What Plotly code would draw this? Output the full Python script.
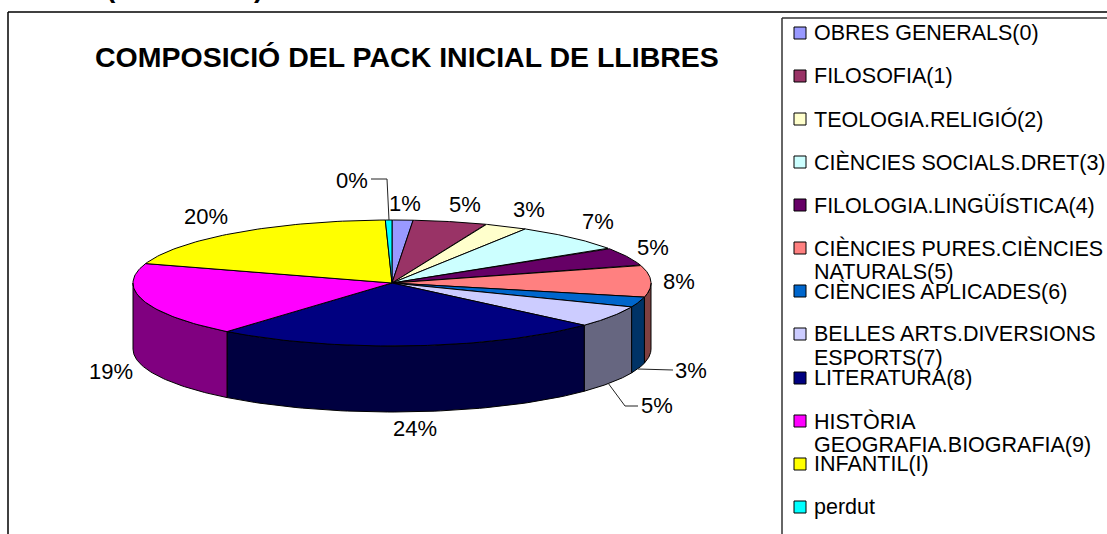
import numpy as np
import plotly.graph_objects as go

categories = ["OBRES GENERALS(0)", "FILOSOFIA(1)", "TEOLOGIA.RELIGIÓ(2)", "CIÈNCIES SOCIALS.DRET(3)",
              "FILOLOGIA.LINGÜÍSTICA(4)", "CIÈNCIES PURES.CIÈNCIES<br>NATURALS(5)", "CIÈNCIES APLICADES(6)",
              "BELLES ARTS.DIVERSIONS<br>ESPORTS(7)", "LITERATURA(8)", "HISTÒRIA<br>GEOGRAFIA.BIOGRAFIA(9)",
              "INFANTIL(I)", "perdut"]
values = [1.3, 4.6, 2.7, 7.1, 4.7, 8.2, 2.6, 5.49, 24.3, 19.0, 19.6, 0.41]
top_colors = ["#9999FF", "#993366", "#FFFFCC", "#CCFFFF", "#660066", "#FF8080",
              "#0066CC", "#CCCCFF", "#000080", "#FF00FF", "#FFFF00", "#00FFFF"]
side_colors = ["#4D4D80", "#4D1A33", "#808066", "#668080", "#330033", "#804040",
               "#003366", "#666680", "#000040", "#800080", "#808000", "#008080"]
title = "COMPOSICIÓ DEL PACK INICIAL DE LLIBRES"

# layout (pixels in the page)
W, H = 1107, 534
CX, CY, A, B, DEPTH = 392, 283, 259, 63, 66
label_pos = [(405, 203), (465, 204), (529, 209), (598, 221), (653, 247), (679, 281),
             (691, 370), (657, 405), (415, 428), (111, 371), (206, 216), (352, 180)]
legend_y = [33, 76, 119, 162, 205, 248, 291, 334, 378, 421, 464, 507]
LINE_STEP = 24
FONT = "Liberation Sans, Arial, sans-serif"

def ell(t):
    return CX + A * np.sin(t), CY - B * np.cos(t)

fig = go.Figure()
edges = np.cumsum([0] + values) / sum(values) * 2 * np.pi

# side walls (front half only)
for i in range(len(values)):
    lo, hi = max(edges[i], np.pi / 2), min(edges[i + 1], 3 * np.pi / 2)
    if hi <= lo:
        continue
    t = np.linspace(lo, hi, 60)
    x, y = ell(t)
    fig.add_trace(go.Scatter(x=np.r_[x, x[::-1], x[0]], y=np.r_[y, y[::-1] + DEPTH, y[0]],
                             mode="lines", fill="toself", fillcolor=side_colors[i],
                             line=dict(color="black", width=1), hoverinfo="skip", showlegend=False))
# top faces
for i in range(len(values)):
    t = np.linspace(edges[i], edges[i + 1], 60)
    x, y = ell(t)
    fig.add_trace(go.Scatter(x=np.r_[CX, x, CX], y=np.r_[CY, y, CY],
                             mode="lines", fill="toself", fillcolor=top_colors[i],
                             line=dict(color="black", width=1), hoverinfo="skip", showlegend=False))

# leader lines
for lx, ly in [([371, 387, 389], [179, 179, 220]),
               ([673, 638], [370, 369]),
               ([638, 625, 608], [406, 406, 383])]:
    fig.add_trace(go.Scatter(x=lx, y=ly, mode="lines", line=dict(color="#222222", width=1),
                             hoverinfo="skip", showlegend=False))

# legend swatches
fig.add_trace(go.Scatter(x=[800] * len(values), y=legend_y, mode="markers",
                         marker=dict(symbol="square", size=12, color=top_colors,
                                     line=dict(color="black", width=1)),
                         hoverinfo="skip", showlegend=False))

ann = []
for v, (x, y) in zip(values, label_pos):
    ann.append(dict(x=x, y=y, text=f"{round(v)}%", showarrow=False, xref="x", yref="y",
                    font=dict(family=FONT, size=22, color="black")))
for c, y in zip(categories, legend_y):
    for k, part in enumerate(c.split("<br>")):
        ann.append(dict(x=812, y=y + k * LINE_STEP, text=part, showarrow=False, xref="x", yref="y",
                        xanchor="left", yanchor="middle", align="left",
                        font=dict(family=FONT, size=21.5, color="black")))
ann.append(dict(x=407, y=57, text=f"<b>{title}</b>", showarrow=False, xref="x", yref="y",
                font=dict(family=FONT, size=28.5, color="black")))
for s, x in [("(", 111), (")", 258)]:
    ann.append(dict(x=x, y=1 + 13 / H, text=f"<b>{s}</b>", showarrow=False, xref="x", yref="paper",
                    yanchor="middle", font=dict(family=FONT, size=28, color="black")))

shapes = [
    dict(type="line", x0=8, y0=12, x1=W, y1=12, line=dict(color="black", width=1.5)),
    dict(type="line", x0=8, y0=12, x1=8, y1=H, line=dict(color="black", width=1.5)),
    dict(type="line", x0=782, y0=18, x1=W, y1=18, line=dict(color="#333333", width=1.5)),
    dict(type="line", x0=782, y0=18, x1=782, y1=H, line=dict(color="#333333", width=1.5)),
]

fig.update_layout(width=W, height=H, margin=dict(l=0, r=0, t=0, b=0),
                  paper_bgcolor="white", plot_bgcolor="white", showlegend=False,
                  xaxis=dict(range=[0, W], visible=False, fixedrange=True),
                  yaxis=dict(range=[H, 0], visible=False, fixedrange=True),
                  annotations=ann, shapes=shapes)
fig.write_html("out.html", config=dict(displayModeBar=False),
               post_script="document.body.style.margin='0';document.body.style.overflow='hidden';")
